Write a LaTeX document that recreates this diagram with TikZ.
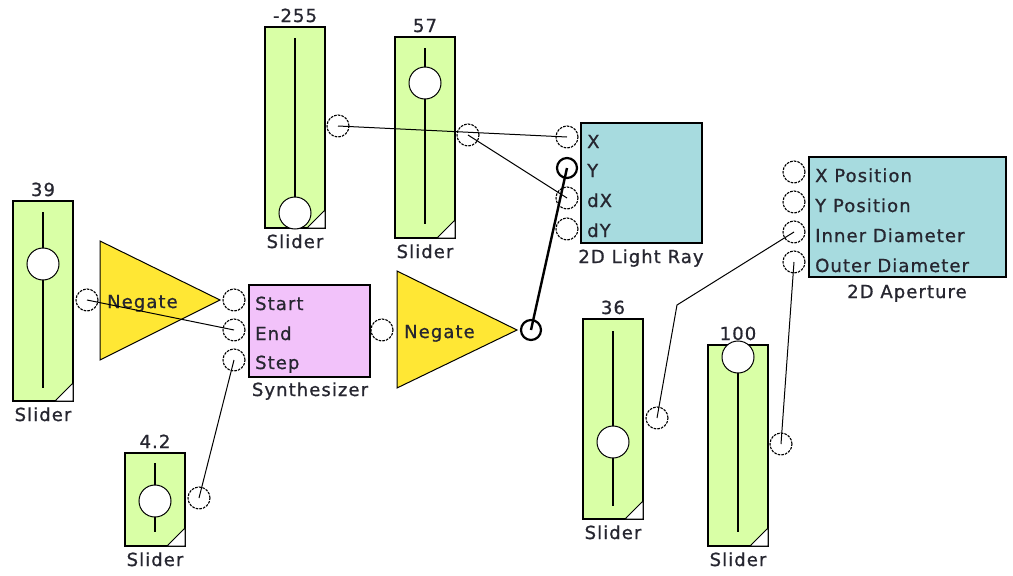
\documentclass[tikz,border=0pt]{standalone}
\usepackage{fontspec}
\newfontfamily\uifont{DejaVu Sans}[LetterSpace=6,FakeBold=0.9]
\definecolor{slgreen}{HTML}{D9FFA6}
\definecolor{raycol}{HTML}{A7DBDF}
\definecolor{syncol}{HTML}{F2C2FA}
\definecolor{negcol}{HTML}{FFE734}
\definecolor{txt}{HTML}{262630}
\newcommand\mkslider[8]{%
  \node[sliderbox, minimum height={#4-#3}] (#1) at (#2,{(#3+#4)/2}) {};
  \draw[track] (#2,#5) -- (#2,#6);
  \filldraw[corner] ({#2+30},#4) -- ++(-18,0) -- ++(18,-18) -- cycle;
  \node[knob] (#1k) at (#2,#7) {};
  \node[lbl] (#1v) at (#2,{#3-5}) {#8};
  \node[lbl] (#1n) at (#2,{#4+20}) {Slider};
}
\begin{document}
\begin{tikzpicture}[x=1pt,y=-1pt,
  port/.style={circle, draw=black, fill=white, line width=1.1pt, dash pattern=on 2.6pt off 1.1pt, minimum size=22pt, inner sep=0pt},
  boldport/.style={circle, draw=black, fill=white, line width=2.2pt, minimum size=20pt, inner sep=0pt},
  wire/.style={draw=black, line width=1pt},
  boldwire/.style={draw=black, line width=2.4pt},
  sliderbox/.style={draw=black, line width=1.3pt, fill=slgreen, minimum width=60pt, inner sep=0pt},
  track/.style={draw=black, line width=1.3pt},
  corner/.style={draw=black, fill=white, line width=1pt},
  knob/.style={circle, draw=black, fill=white, line width=1pt, minimum size=32pt, inner sep=0pt},
  blockbox/.style={draw=black, line width=1.3pt, inner sep=0pt},
  negtri/.style={draw=black, fill=negcol, line width=1pt},
  lbl/.style={font=\uifont\fontsize{18}{20}\selectfont, text=txt, inner sep=0pt, anchor=base},
  lblw/.style={lbl, anchor=base west}]
\useasboundingbox (0,0) rectangle (1013,576);
\fill[white] (0,0) rectangle (1013,576);

% sliders
\mkslider{sA}{43}{201}{401}{212}{388}{264}{39}
\mkslider{sB}{295}{27}{228}{38}{213}{213}{-255}
\mkslider{sC}{425}{37}{238}{48}{224}{83}{57}
\mkslider{sD}{155}{453}{546}{463}{532}{501}{4.2}
\mkslider{sE}{613}{319}{519}{331}{506}{442}{36}
\mkslider{sF}{738}{345}{546}{357}{532}{357}{100}

% negate blocks
\filldraw[negtri] (100,241) -- (100,360) -- (220,300) -- cycle;
\node[lblw] (neg1) at (107,308) {Negate};
\filldraw[negtri] (397,271) -- (397,388) -- (517,330) -- cycle;
\node[lblw] (neg2) at (404,338) {Negate};

% synthesizer
\node[blockbox, fill=syncol, minimum width=121pt, minimum height=92pt] (syn) at (309.5,331) {};
\node[lblw] (synS) at (255,310) {Start};
\node[lblw] (synE) at (255,340) {End};
\node[lblw] (synT) at (255,369) {Step};
\node[lbl] (synN) at (310,396) {Synthesizer};

% 2D light ray
\node[blockbox, fill=raycol, minimum width=121pt, minimum height=120pt] (ray) at (641.5,183) {};
\node[lblw] (rayX) at (587,148) {X};
\node[lblw] (rayY) at (587,177) {Y};
\node[lblw] (raydX) at (587,207) {dX};
\node[lblw] (raydY) at (587,237) {dY};
\node[lbl] (rayN) at (641,263) {2D Light Ray};

% 2D aperture
\node[blockbox, fill=raycol, minimum width=197pt, minimum height=120pt] (ap) at (907.5,217) {};
\node[lblw] (apX) at (815,182) {X Position};
\node[lblw] (apY) at (815,212) {Y Position};
\node[lblw] (apI) at (815,242) {Inner Diameter};
\node[lblw] (apO) at (815,272) {Outer Diameter};
\node[lbl] (apN) at (907,298) {2D Aperture};

% ports
\node[port] (pA) at (87,300) {};
\node[port] (pB) at (338,126) {};
\node[port] (pC) at (468,135) {};
\node[port] (pD) at (199,498) {};
\node[port] (pE) at (657,418) {};
\node[port] (pF) at (781,444) {};
\node[port] (inS) at (234,300) {};
\node[port] (inE) at (234,330) {};
\node[port] (inT) at (234,360) {};
\node[port] (synO) at (382,330) {};
\node[boldport] (negO) at (531,330) {};
\node[port] (inX) at (567,137) {};
\node[boldport] (inY) at (567,168) {};
\node[port] (indX) at (567,198) {};
\node[port] (indY) at (567,229) {};
\node[port] (inAX) at (794,172) {};
\node[port] (inAY) at (794,202) {};
\node[port] (inAI) at (794,232) {};
\node[port] (inAO) at (794,262) {};

% wires
\coordinate (bend) at (677,305);
\draw[wire] (pB.center) -- (inX.center);
\draw[wire] (pC.center) -- (indX.center);
\draw[wire] (pA.center) -- (inE.center);
\draw[wire] (pD.center) -- (inT.center);
\draw[wire] (pE.center) -- (bend) -- (inAI.center);
\draw[wire] (pF.center) -- (inAO.center);
\draw[boldwire] (negO.center) -- (inY.center);
\end{tikzpicture}
\end{document}
